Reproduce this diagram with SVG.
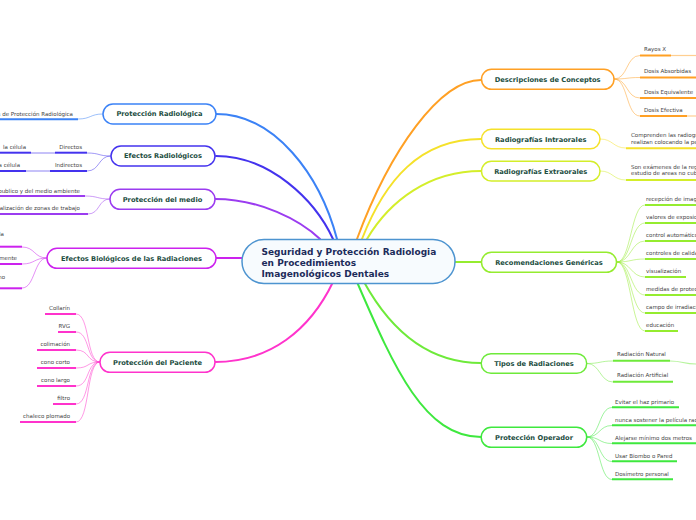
<svg xmlns="http://www.w3.org/2000/svg" width="696" height="520" viewBox="0 0 696 520">
<style>
.bg{fill:#ffffff}
.br{fill:none;stroke-width:2;stroke-linecap:round}
.sc{fill:none;stroke-width:1;opacity:0.5}
.ul{stroke-width:2;fill:none}
.ulc{stroke-width:1.2;fill:none;opacity:0.5}
.nb{fill:#ffffff;stroke-width:1.5}
.nt{font-family:"DejaVu Sans","Verdana",sans-serif;font-weight:bold;font-size:6.7px;fill:#1d4e3f;text-anchor:middle}
.ct{font-family:"DejaVu Sans","Verdana",sans-serif;font-weight:bold;font-size:9px;fill:#1c2b5a}
.st{font-family:"DejaVu Sans","Verdana",sans-serif;font-size:5.5px;fill:#444444}
.e{text-anchor:end}
.c1{stroke:#3b82f6}.c2{stroke:#4433ee}.c3{stroke:#9b3cf0}.c4{stroke:#cc22ee}.c5{stroke:#ff33cc}
.c6{stroke:#ffa024}.c7{stroke:#f5e12a}.c8{stroke:#d4ee2a}.c9{stroke:#95ec2f}.c10{stroke:#6eea3a}.c11{stroke:#3ee83e}
</style>
<rect class="bg" x="0" y="0" width="696" height="520"/>
<g id="connectors">
<path class="br c1" d="M216 114 C275 114 320 175 337 239"/>
<path class="br c2" d="M216 156 C270 156 315 200 333 239"/>
<path class="br c3" d="M215 199 C260 199 300 220 320 239"/>
<path class="br c4" d="M216 258 L242 258"/>
<path class="br c5" d="M215 362 C270 362 310 330 333 282"/>
<path class="br c6" d="M357 239 C390 150 440 80 481 80"/>
<path class="br c7" d="M362 239 C385 180 420 139 481 139"/>
<path class="br c8" d="M367 239 C390 200 430 171 481 171"/>
<path class="br c9" d="M455 262 L481 262"/>
<path class="br c10" d="M364 282 C385 320 420 363 481 363"/>
<path class="br c11" d="M357 282 C395 370 425 437 481 437"/>
<!-- sub connectors left -->
<path class="sc c1" d="M103 114 C90 114 91 119 78 119"/>
<path class="sc c2" d="M111 156 C98 156 100 153 87 153"/>
<path class="sc c2" d="M111 156 C98 156 100 171 87 171"/>
<path class="ulc c2" d="M31 153 L55 153"/>
<path class="ulc c2" d="M26 171 L50 171"/>
<path class="sc c3" d="M110 199 C97 199 98 196 85 196"/>
<path class="sc c3" d="M110 199 C98 199 100 214 88 214"/>
<path class="sc c4" d="M47 258 C34 258 35 247 22 247"/>
<path class="sc c4" d="M47 258 C34 258 35 264 22 264"/>
<path class="sc c4" d="M47 258 C34 258 35 288 22 288"/>
<path class="sc c5" d="M100 362 C86 362 90 314 76 314"/>
<path class="sc c5" d="M100 362 C86 362 90 332 76 332"/>
<path class="sc c5" d="M100 362 C86 362 90 350 76 350"/>
<path class="sc c5" d="M100 362 C86 362 90 368 76 368"/>
<path class="sc c5" d="M100 362 C86 362 90 386 76 386"/>
<path class="sc c5" d="M100 362 C86 362 90 404 76 404"/>
<path class="sc c5" d="M100 362 C86 362 90 422 76 422"/>
<!-- sub connectors right -->
<path class="sc c6" d="M614 79 C628 79 626 55.5 640 55.5"/>
<path class="sc c6" d="M614 79 C628 79 626 77.5 640 77.5"/>
<path class="sc c6" d="M614 79 C628 79 626 98 640 98"/>
<path class="sc c6" d="M614 79 C628 79 626 116 640 116"/>
<path class="ulc c6" d="M671 55.5 L696 55.5"/>
<path class="ulc c6" d="M687 116 L696 116"/>
<path class="sc c7" d="M600 139 C613 139 613 148 626 148"/>
<path class="sc c8" d="M600 171 C613 171 613 180 626 180"/>
<path class="sc c9" d="M617 262 C631 262 631 205 645 205"/>
<path class="sc c9" d="M617 262 C631 262 631 223 645 223"/>
<path class="sc c9" d="M617 262 C631 262 631 241 645 241"/>
<path class="sc c9" d="M617 262 C631 262 631 259 645 259"/>
<path class="sc c9" d="M617 262 C631 262 631 277 645 277"/>
<path class="sc c9" d="M617 262 C631 262 631 295 645 295"/>
<path class="sc c9" d="M617 262 C631 262 631 313 645 313"/>
<path class="sc c9" d="M617 262 C631 262 631 331 645 331"/>
<path class="sc c10" d="M587 363.5 C600 363.5 600 361 613 361"/>
<path class="sc c10" d="M587 363.5 C600 363.5 600 382 613 382"/>
<path class="ulc c10" d="M670 361 C683 361 683 364 696 364"/>
<path class="sc c11" d="M587 437 C600 437 599 407.5 612 407.5"/>
<path class="sc c11" d="M587 437 C600 437 599 425.5 612 425.5"/>
<path class="sc c11" d="M587 437 C600 437 599 443.5 612 443.5"/>
<path class="sc c11" d="M587 437 C600 437 599 461.5 612 461.5"/>
<path class="sc c11" d="M587 437 C600 437 599 479.5 612 479.5"/>
</g>
<g id="center">
<rect x="242" y="239.5" width="213" height="44" rx="22" fill="#f7fbfe" stroke="#4d94d0" stroke-width="1.5"/>
<text class="ct" x="261.5" y="254.5">Seguridad y Protección Radiologia</text>
<text class="ct" x="261.5" y="265.5">en Procedimientos</text>
<text class="ct" x="261.5" y="276.5">Imagenológicos Dentales</text>
</g>
<g id="n-proteccion-radiologica">
<rect class="nb c1" x="103" y="104" width="113" height="20" rx="10"/>
<text class="nt" x="159.5" y="116.4">Protección Radiológica</text>
</g>
<g id="n-efectos-radiologicos">
<rect class="nb c2" x="111" y="146" width="104" height="20" rx="10"/>
<text class="nt" x="163" y="158.4">Efectos Radiológicos</text>
</g>
<g id="n-proteccion-medio">
<rect class="nb c3" x="110" y="189.3" width="105" height="20" rx="10"/>
<text class="nt" x="162.5" y="201.7">Protección del medio</text>
</g>
<g id="n-efectos-biologicos">
<rect class="nb c4" x="47" y="248.3" width="169" height="20" rx="10"/>
<text class="nt" x="131.5" y="260.7">Efectos Biológicos de las Radiaciones</text>
</g>
<g id="n-proteccion-paciente">
<rect class="nb c5" x="100" y="352.3" width="115" height="20" rx="10"/>
<text class="nt" x="157.5" y="364.7">Protección del Paciente</text>
</g>
<g id="n-descripciones">
<rect class="nb c6" x="481.5" y="69.3" width="132.5" height="20" rx="10"/>
<text class="nt" x="547.7" y="81.7">Descripciones de Conceptos</text>
</g>
<g id="n-intraorales">
<rect class="nb c7" x="481.5" y="129.3" width="118.5" height="19.5" rx="9.75"/>
<text class="nt" x="540.7" y="141.5">Radiografías Intraorales</text>
</g>
<g id="n-extraorales">
<rect class="nb c8" x="481.5" y="161.3" width="118.5" height="19.7" rx="9.85"/>
<text class="nt" x="540.7" y="173.5">Radiografías Extraorales</text>
</g>
<g id="n-recomendaciones">
<rect class="nb c9" x="481.5" y="252.3" width="135" height="20" rx="10"/>
<text class="nt" x="549" y="264.7">Recomendaciones Genéricas</text>
</g>
<g id="n-tipos">
<rect class="nb c10" x="481.2" y="353.7" width="105.5" height="19.6" rx="9.8"/>
<text class="nt" x="534" y="366">Tipos de Radiaciones</text>
</g>
<g id="n-operador">
<rect class="nb c11" x="481.2" y="427.3" width="105.5" height="20" rx="10"/>
<text class="nt" x="534" y="439.7">Protección Operador</text>
</g>
<g id="sub-proteccion-radiologica">
<text class="st e" x="73" y="116">s de Protección Radiológica</text>
<path class="ul c1" d="M0 119.3 L78 119.3"/>
</g>
<g id="sub-efectos-radiologicos">
<text class="st e" x="82" y="148.7">Directos</text>
<path class="ul c2" d="M55 152.7 L87 152.7"/>
<text class="st e" x="26" y="148.7">la célula</text>
<path class="ul c2" d="M0 152.7 L31 152.7"/>
<text class="st e" x="82" y="167">Indirectos</text>
<path class="ul c2" d="M50 171 L87 171"/>
<text class="st e" x="20" y="167">la célula</text>
<path class="ul c2" d="M0 171 L26 171"/>
</g>
<g id="sub-proteccion-medio">
<text class="st e" x="80" y="192.5">publico y del medio ambiente</text>
<path class="ul c3" d="M0 196 L85 196"/>
<text class="st e" x="80" y="210">alización de zonas de trabajo</text>
<path class="ul c3" d="M0 214 L88 214"/>
</g>
<g id="sub-efectos-biologicos">
<text class="st e" x="4" y="236">la</text>
<path class="ul c4" d="M0 246.7 L22 246.7"/>
<text class="st e" x="17" y="260.3">mente</text>
<path class="ul c4" d="M0 264 L22 264"/>
<text class="st e" x="5" y="278.7">no</text>
<path class="ul c4" d="M0 288.3 L22 288.3"/>
</g>
<g id="sub-proteccion-paciente">
<text class="st e" x="70" y="310">Collarín</text>
<path class="ul c5" d="M45 314 L76 314"/>
<text class="st e" x="70" y="328">RVG</text>
<path class="ul c5" d="M58 332 L76 332"/>
<text class="st e" x="70" y="346">colimación</text>
<path class="ul c5" d="M37 350 L76 350"/>
<text class="st e" x="70" y="364">cono corto</text>
<path class="ul c5" d="M37 368 L76 368"/>
<text class="st e" x="70" y="382">cono largo</text>
<path class="ul c5" d="M37 386 L76 386"/>
<text class="st e" x="70" y="400">filtro</text>
<path class="ul c5" d="M53 404 L76 404"/>
<text class="st e" x="70" y="418">chaleco plomado</text>
<path class="ul c5" d="M20 422 L76 422"/>
</g>
<g id="sub-descripciones">
<text class="st" x="644" y="51">Rayos X</text>
<path class="ul c6" d="M640 55.5 L671 55.5"/>
<text class="st" x="644" y="73">Dosis Absorbidas</text>
<path class="ul c6" d="M640 77.5 L696 77.5"/>
<text class="st" x="644" y="93.7">Dosis Equivalente</text>
<path class="ul c6" d="M640 98 L696 98"/>
<text class="st" x="644" y="111.7">Dosis Efectiva</text>
<path class="ul c6" d="M640 116 L687 116"/>
</g>
<g id="sub-intraorales">
<text class="st" x="631" y="137">Comprenden las radiografías</text>
<text class="st" x="631" y="143.7">realizan colocando la película</text>
<path class="ul c7" d="M626 148.3 L696 148.3"/>
</g>
<g id="sub-extraorales">
<text class="st" x="631" y="168.7">Son exámenes de la región</text>
<text class="st" x="631" y="175.3">estudio de areas no cubiertas</text>
<path class="ul c8" d="M626 180 L696 180"/>
</g>
<g id="sub-recomendaciones">
<text class="st" x="646" y="200.5">recepción de imagen</text>
<path class="ul c9" d="M645 205 L696 205"/>
<text class="st" x="646" y="218.5">valores de exposición</text>
<path class="ul c9" d="M645 223 L696 223"/>
<text class="st" x="646" y="236.5">control automático</text>
<path class="ul c9" d="M645 241 L696 241"/>
<text class="st" x="646" y="254.5">controles de calidad</text>
<path class="ul c9" d="M645 259 L696 259"/>
<text class="st" x="646" y="272.5">visualización</text>
<path class="ul c9" d="M645 277 L686 277"/>
<text class="st" x="646" y="290.5">medidas de protección</text>
<path class="ul c9" d="M645 295 L696 295"/>
<text class="st" x="646" y="308.5">campo de irradiación</text>
<path class="ul c9" d="M645 313 L696 313"/>
<text class="st" x="646" y="326.5">educación</text>
<path class="ul c9" d="M645 331 L678 331"/>
</g>
<g id="sub-tipos">
<text class="st" x="617" y="356.3">Radiación Natural</text>
<path class="ul c10" d="M613 360.7 L670 360.7"/>
<text class="st" x="617" y="377.3">Radiación Artificial</text>
<path class="ul c10" d="M613 381.7 L673 381.7"/>
</g>
<g id="sub-operador">
<text class="st" x="615" y="403.5">Evitar el haz primario</text>
<path class="ul c11" d="M612 407.3 L679 407.3"/>
<text class="st" x="615" y="421.5">nunca sostener la película radiográfica</text>
<path class="ul c11" d="M612 425.3 L696 425.3"/>
<text class="st" x="615" y="439.5">Alejarse mínimo dos metros</text>
<path class="ul c11" d="M612 443.3 L696 443.3"/>
<text class="st" x="615" y="457.5">Usar Biombo o Pared</text>
<path class="ul c11" d="M612 461.3 L677 461.3"/>
<text class="st" x="615" y="475.5">Dosímetro personal</text>
<path class="ul c11" d="M612 479.3 L673 479.3"/>
</g>
</svg>
